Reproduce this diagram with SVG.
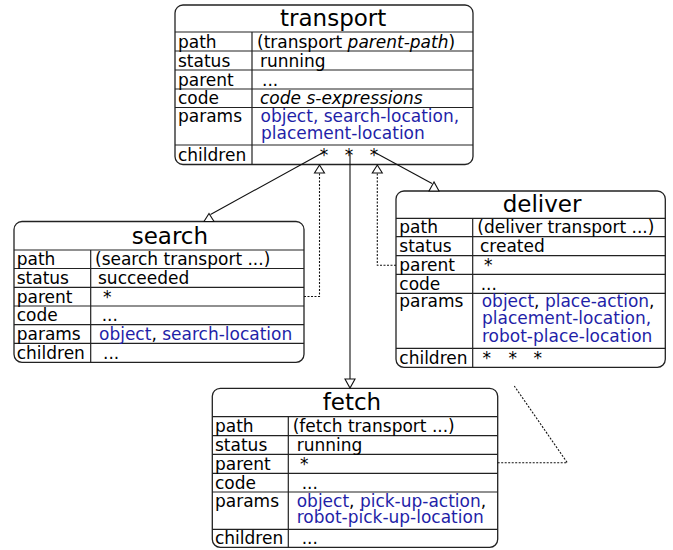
<svg xmlns="http://www.w3.org/2000/svg" width="673" height="550" viewBox="0 0 673 550">
<style>
.box{fill:#fff;stroke:#222;stroke-width:1.3}
.sep{stroke:#222;stroke-width:1.2}
text{font-family:"DejaVu Sans",sans-serif;font-size:17px;fill:#000}
.title{font-size:23px}
.b{fill:#1f1fa8}
.i{font-style:italic}
.st{text-anchor:middle}
.ln{fill:none;stroke:#111;stroke-width:1.1}
.dot{fill:none;stroke:#111;stroke-width:1.1;stroke-dasharray:2 1.5}
.head{fill:#fff;stroke:#111;stroke-width:1.1}
</style>
<rect width="673" height="550" fill="#fff"/>

<g id="transport">
<rect class="box" x="175" y="5" width="298" height="159.5" rx="8"/>
<path class="sep" d="M175 32H473M175 51H473M175 70H473M175 89H473M175 107.5H473M175 145H473M252 32V164.5"/>
<text class="title" x="280" y="26">transport</text>
<text x="178" y="47.5">path</text>
<text x="178" y="66.5">status</text>
<text x="178" y="85.5">parent</text>
<text x="178" y="104">code</text>
<text x="178" y="122">params</text>
<text x="178" y="160.5">children</text>
<text x="257" y="47.5">(transport <tspan class="i">parent-path</tspan>)</text>
<text x="260" y="66.5">running</text>
<text x="262" y="85.5">...</text>
<text class="i" x="260" y="104">code s-expressions</text>
<text class="b" x="260.5" y="122">object, search-location,</text>
<text class="b" x="261" y="139">placement-location</text>
<text class="st" x="324" y="161">*</text>
<text class="st" x="349" y="161">*</text>
<text class="st" x="374" y="161">*</text>
</g>

<g id="search">
<rect class="box" x="14" y="221.5" width="290" height="140.8" rx="8"/>
<path class="sep" d="M14 250H304M14 268.5H304M14 287.3H304M14 306H304M14 324.7H304M14 343.3H304M90.7 250V362.3"/>
<text class="title" x="131.7" y="244">search</text>
<text x="16.7" y="265">path</text>
<text x="16.7" y="284">status</text>
<text x="16.7" y="302.5">parent</text>
<text x="16.7" y="321.3">code</text>
<text x="16.7" y="340">params</text>
<text x="16.7" y="359">children</text>
<text x="95" y="265">(search transport ...)</text>
<text x="98" y="284">succeeded</text>
<text x="103" y="302.5">*</text>
<text x="101.7" y="321.3">...</text>
<text x="99" y="340"><tspan class="b">object</tspan>, <tspan class="b">search-location</tspan></text>
<text x="103" y="359">...</text>
</g>

<g id="deliver">
<rect class="box" x="396" y="191" width="269.3" height="176.3" rx="8"/>
<path class="sep" d="M396 218.3H665.3M396 236.7H665.3M396 255.7H665.3M396 274.3H665.3M396 293.3H665.3M396 348.3H665.3M472.7 218.3V367.3"/>
<text class="title" x="502.7" y="212">deliver</text>
<text x="399.3" y="233">path</text>
<text x="399.3" y="252">status</text>
<text x="399.3" y="271">parent</text>
<text x="399.3" y="290">code</text>
<text x="399.3" y="306.7">params</text>
<text x="399.3" y="364">children</text>
<text x="477.3" y="233">(deliver transport ...)</text>
<text x="480" y="252">created</text>
<text x="484" y="271">*</text>
<text x="480.7" y="290">...</text>
<text x="481.7" y="306.7"><tspan class="b">object</tspan>, <tspan class="b">place-action</tspan>,</text>
<text class="b" x="482" y="324.3">placement-location,</text>
<text class="b" x="482" y="341.7">robot-place-location</text>
<text class="st" x="486.7" y="364">*</text>
<text class="st" x="512.7" y="364">*</text>
<text class="st" x="537.7" y="364">*</text>
</g>

<g id="fetch">
<rect class="box" x="212.3" y="388.3" width="285.4" height="159" rx="8"/>
<path class="sep" d="M212.3 416.7H497.7M212.3 435.7H497.7M212.3 454.3H497.7M212.3 473.3H497.7M212.3 492H497.7M212.3 529.3H497.7M288.3 416.7V547.3"/>
<text class="title" x="322.7" y="410">fetch</text>
<text x="215" y="432">path</text>
<text x="215" y="451">status</text>
<text x="215" y="470">parent</text>
<text x="215" y="488.5">code</text>
<text x="215" y="506.7">params</text>
<text x="215" y="544">children</text>
<text x="292.7" y="432">(fetch transport ...)</text>
<text x="296.7" y="451">running</text>
<text x="300" y="470">*</text>
<text x="301.7" y="488.5">...</text>
<text x="296.7" y="506.7"><tspan class="b">object</tspan>, <tspan class="b">pick-up-action</tspan>,</text>
<text class="b" x="296.7" y="523.3">robot-pick-up-location</text>
<text x="301.7" y="544">...</text>
</g>

<g id="connectors">
<path class="ln" d="M324 152L210.5 214.5"/>
<polygon class="head" points="209,213.5 204,221.5 214,221.5"/>
<path class="ln" d="M374 152L432 183.5"/>
<polygon class="head" points="434,182 429,191 439,191"/>
<path class="ln" d="M350 152V379"/>
<polygon class="head" points="345,379 355,379 350,388"/>
<path class="dot" d="M304 296.5H319.5V173"/>
<polygon class="head" points="319.5,165 314.5,173 324.5,173"/>
<path class="dot" d="M396 265.3H377.3V173"/>
<polygon class="head" points="377.3,165 372.3,173 382.3,173"/>
<path class="dot" d="M497.7 462.7H567.3L514.3 386"/>
</g>
</svg>
